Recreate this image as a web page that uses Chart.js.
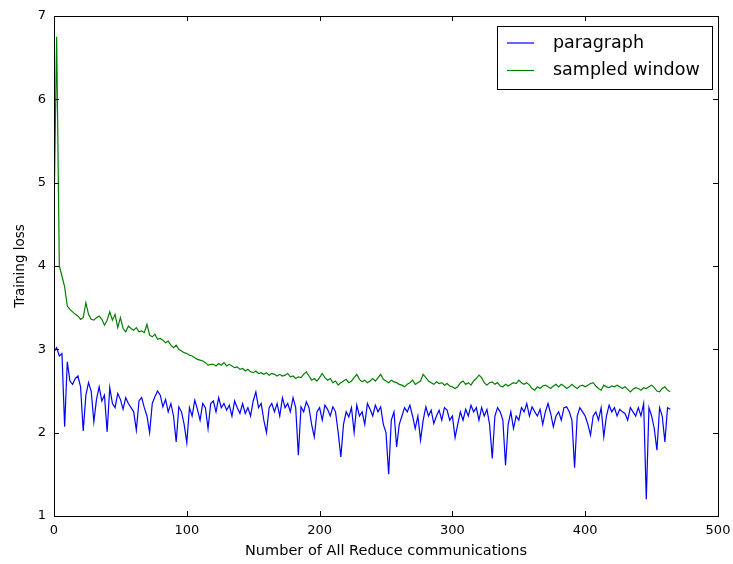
<!DOCTYPE html>
<html>
<head>
<meta charset="utf-8">
<script src="https://cdn.jsdelivr.net/npm/chart.js@4"></script>
<style>
  html, body { margin: 0; padding: 0; background: #fff; }
  #wrap { width: 733px; height: 564px; }
</style>
</head>
<body>
<div id="wrap"><canvas id="lossChart"></canvas></div>
<script>
// x = number of All Reduce communications, sampled every 2
const xStep = 2;
const xTicks = [0, 100, 200, 300, 400, 500];
const yTicks = [1, 2, 3, 4, 5, 6, 7];

const paragraph = [
  2.97, 3.02, 2.92, 2.95, 2.07, 2.85, 2.62, 2.58, 2.65, 2.68,
  2.55, 2.02, 2.45, 2.60, 2.50, 2.13, 2.40, 2.55, 2.38, 2.45,
  2.01, 2.54, 2.35, 2.30, 2.47, 2.40, 2.28, 2.42, 2.35, 2.30,
  2.25, 2.03, 2.38, 2.42, 2.30, 2.20, 2.00, 2.35, 2.43, 2.50,
  2.45, 2.31, 2.40, 2.25, 2.35, 2.20, 1.89, 2.31, 2.25, 2.10,
  1.88, 2.30, 2.20, 2.39, 2.28, 2.15, 2.35, 2.30, 2.05, 2.35,
  2.38, 2.25, 2.42, 2.30, 2.35, 2.27, 2.33, 2.20, 2.38, 2.30,
  2.23, 2.35, 2.23, 2.30, 2.20, 2.38, 2.49, 2.30, 2.35, 2.15,
  2.00, 2.30, 2.35, 2.25, 2.35, 2.20, 2.42, 2.30, 2.35, 2.25,
  2.42, 2.30, 1.73, 2.31, 2.25, 2.37, 2.30, 2.10, 1.95, 2.25,
  2.30, 2.15, 2.33, 2.28, 2.20, 2.31, 2.25, 2.00, 1.71, 2.10,
  2.25, 2.19, 2.30, 2.00, 2.33, 2.20, 2.25, 2.10, 2.35, 2.28,
  2.20, 2.33, 2.25, 2.31, 2.10, 2.00, 1.50, 2.15, 2.25, 1.83,
  2.10, 2.20, 2.30, 2.25, 2.33, 2.20, 2.05, 2.20, 1.91, 2.15,
  2.31, 2.20, 2.27, 2.11, 2.20, 2.27, 2.15, 2.30, 2.27, 2.15,
  2.20, 1.94, 2.10, 2.25, 2.15, 2.28, 2.20, 2.33, 2.25, 2.30,
  2.15, 2.30, 2.20, 2.28, 2.10, 1.69, 2.20, 2.30, 2.25, 2.15,
  1.61, 2.10, 2.25, 2.05, 2.20, 2.15, 2.30, 2.25, 2.35, 2.20,
  2.31, 2.25, 2.20, 2.28, 2.10, 2.25, 2.35, 2.23, 2.07, 2.20,
  2.25, 2.15, 2.30, 2.31, 2.25, 2.15, 1.58, 2.20, 2.30, 2.25,
  2.20, 2.10, 1.97, 2.20, 2.25, 2.15, 2.30, 1.95, 2.20, 2.33,
  2.25, 2.30, 2.20, 2.28, 2.25, 2.23, 2.15, 2.30, 2.25, 2.20,
  2.30, 2.20, 2.35, 1.20, 2.30, 2.20, 2.05, 1.79, 2.30, 2.20,
  1.89, 2.30, 2.28
];

const sampledWindow = [
  4.60, 6.75, 4.00, 3.88, 3.75, 3.52, 3.48, 3.45, 3.42, 3.40,
  3.36, 3.38, 3.56, 3.42, 3.36, 3.35, 3.38, 3.40, 3.36, 3.29,
  3.35, 3.45, 3.35, 3.42, 3.26, 3.38, 3.25, 3.21, 3.28, 3.25,
  3.23, 3.26, 3.21, 3.22, 3.20, 3.30, 3.17, 3.15, 3.18, 3.12,
  3.13, 3.11, 3.08, 3.10, 3.05, 3.02, 3.05, 3.00, 2.98, 2.96,
  2.95, 2.93, 2.92, 2.90, 2.88, 2.87, 2.86, 2.84, 2.81, 2.82,
  2.82, 2.80, 2.83, 2.81, 2.84, 2.80, 2.82, 2.80, 2.78, 2.79,
  2.76, 2.77, 2.74, 2.76, 2.73, 2.72, 2.74, 2.71, 2.72, 2.70,
  2.72, 2.69, 2.71, 2.70, 2.68, 2.70, 2.68, 2.69, 2.71, 2.67,
  2.68, 2.65, 2.67, 2.66, 2.70, 2.73, 2.68, 2.63, 2.65, 2.62,
  2.66, 2.71, 2.66, 2.63, 2.65, 2.60, 2.62, 2.57, 2.60, 2.62,
  2.64, 2.60, 2.62, 2.66, 2.70, 2.64, 2.61, 2.63, 2.60, 2.62,
  2.65, 2.62, 2.66, 2.70, 2.64, 2.62, 2.60, 2.63, 2.61, 2.60,
  2.58, 2.57, 2.55, 2.58, 2.60, 2.63, 2.58, 2.60, 2.62, 2.70,
  2.66, 2.62, 2.60, 2.58, 2.61, 2.59, 2.60, 2.57, 2.59, 2.56,
  2.55, 2.53, 2.55, 2.60, 2.62, 2.58, 2.60, 2.57, 2.62, 2.65,
  2.69, 2.66, 2.60, 2.57, 2.60, 2.61, 2.58, 2.60, 2.56, 2.55,
  2.58, 2.56, 2.58, 2.60, 2.59, 2.63, 2.60, 2.58, 2.60, 2.57,
  2.53, 2.51, 2.55, 2.53, 2.56, 2.57, 2.55, 2.53, 2.56, 2.58,
  2.55, 2.58, 2.56, 2.53, 2.55, 2.58, 2.55, 2.53, 2.56, 2.57,
  2.55, 2.57, 2.59, 2.60, 2.56, 2.53, 2.51, 2.57, 2.55, 2.54,
  2.56, 2.55, 2.57, 2.55, 2.53, 2.55, 2.52, 2.49, 2.52, 2.54,
  2.53, 2.51, 2.54, 2.53, 2.55, 2.57, 2.54, 2.50, 2.49, 2.53,
  2.55, 2.51, 2.49
];

const toPoints = vals => vals.map((v, i) => ({ x: i * xStep, y: v }));
const FONT = 'DejaVu Sans, sans-serif';

// matplotlib-style frame, inward ticks on all sides, legend inside the axes
const mplFrame = {
  id: 'mplFrame',
  afterDatasetsDraw(chart) {
    const { ctx, chartArea: a, scales: { x, y } } = chart;
    ctx.save();
    ctx.strokeStyle = '#000';
    ctx.lineWidth = 1;
    ctx.beginPath();
    xTicks.forEach(t => {
      const px = Math.round(x.getPixelForValue(t)) + 0.5;
      ctx.moveTo(px, a.bottom); ctx.lineTo(px, a.bottom - 5);
      ctx.moveTo(px, a.top); ctx.lineTo(px, a.top + 5);
    });
    yTicks.forEach(t => {
      const py = Math.round(y.getPixelForValue(t)) + 0.5;
      ctx.moveTo(a.left, py); ctx.lineTo(a.left + 5, py);
      ctx.moveTo(a.right, py); ctx.lineTo(a.right - 5, py);
    });
    ctx.stroke();
    ctx.strokeRect(Math.round(a.left) + 0.5, Math.round(a.top) + 0.5,
                   Math.round(a.right - a.left), Math.round(a.bottom - a.top));

    // legend
    const bx = 497.5, by = 26.5, bw = 215, bh = 63;
    ctx.fillStyle = '#fff';
    ctx.fillRect(bx, by, bw, bh);
    ctx.strokeRect(bx, by, bw, bh);
    ctx.font = '17.5px ' + FONT;
    ctx.textBaseline = 'middle';
    chart.data.datasets.forEach((ds, i) => {
      const ly = 43 + i * 27.5;
      ctx.strokeStyle = ds.borderColor;
      ctx.lineWidth = 1.2;
      ctx.beginPath();
      ctx.moveTo(507, ly); ctx.lineTo(534, ly);
      ctx.stroke();
      ctx.fillStyle = '#000';
      ctx.fillText(ds.label, 553, ly);
    });
    ctx.restore();
  }
};

new Chart(document.getElementById('lossChart').getContext('2d'), {
  type: 'line',
  data: {
    datasets: [
      { label: 'paragraph', data: toPoints(paragraph), borderColor: '#0000ff', borderWidth: 1.2, pointRadius: 0, tension: 0, fill: false },
      { label: 'sampled window', data: toPoints(sampledWindow), borderColor: '#008000', borderWidth: 1.2, pointRadius: 0, tension: 0, fill: false }
    ]
  },
  options: {
    responsive: true,
    maintainAspectRatio: false,
    animation: false,
    layout: { padding: { top: 16, right: 15, left: 0, bottom: 0 } },
    plugins: { legend: { display: false }, tooltip: { enabled: false } },
    scales: {
      x: {
        type: 'linear', min: 0, max: 500,
        afterBuildTicks: s => { s.ticks = xTicks.map(v => ({ value: v })); },
        afterFit: s => { s.height = 48; s.paddingLeft = 0; s.paddingRight = 0; },
        grid: { display: false, drawTicks: false },
        border: { display: false },
        ticks: { font: { family: FONT, size: 13 }, color: '#000', padding: 7, maxRotation: 0 },
        title: { display: true, text: 'Number of All Reduce communications', color: '#000', font: { family: FONT, size: 14.5 }, padding: { top: 0, bottom: 4 } }
      },
      y: {
        min: 1, max: 7,
        afterBuildTicks: s => { s.ticks = yTicks.map(v => ({ value: v })); },
        afterFit: s => { s.width = 54; s.paddingTop = 0; s.paddingBottom = 0; },
        grid: { display: false, drawTicks: false },
        border: { display: false },
        ticks: { font: { family: FONT, size: 13 }, color: '#000', padding: 8 },
        title: { display: true, text: 'Training loss', color: '#000', font: { family: FONT, size: 13.5 }, padding: { top: 12, bottom: 0 } }
      }
    }
  },
  plugins: [mplFrame]
});
</script>
</body>
</html>
